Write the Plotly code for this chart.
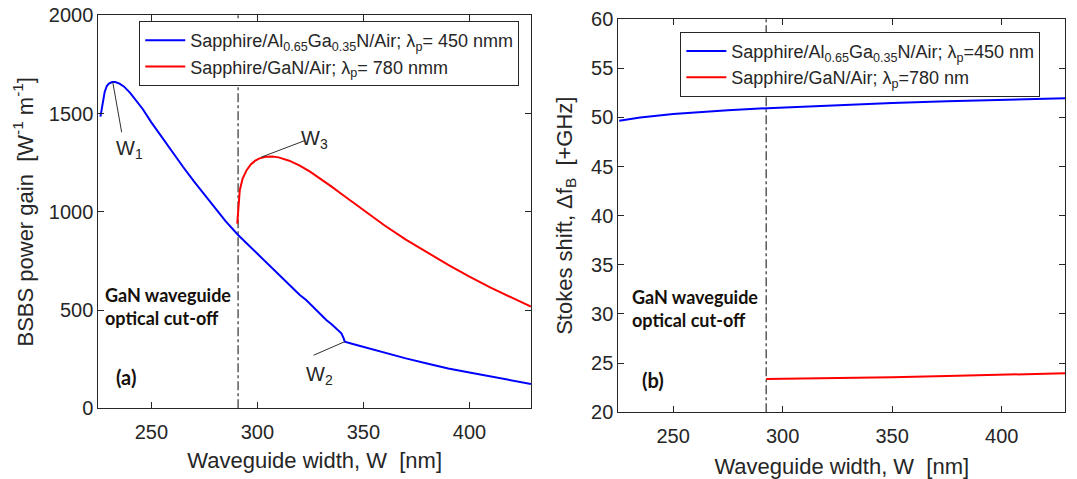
import plotly.graph_objects as go

# ---------------- data ----------------
# (a) BSBS power gain
a_blue_x = [226, 227, 228, 229, 230, 231.5, 233, 235, 237, 240, 243, 246, 250, 255, 260, 265,
            270, 275, 280, 285, 290.8, 295, 300, 305, 310, 315, 320, 323, 327, 332.5, 335,
            337.2, 339.6, 340.6, 341.2, 345, 350, 357.8, 370, 380, 390, 400, 410, 420, 429]
a_blue_y = [1484, 1560, 1610, 1640, 1652, 1660, 1660, 1652, 1638, 1605, 1566, 1522, 1455, 1378,
            1302, 1228, 1156, 1087, 1018, 952, 883, 839, 786, 734, 681, 629, 577, 551, 508, 449,
            428, 407, 382, 358, 339, 327, 312, 288, 254, 228, 203, 182, 161, 142, 124]
a_red_x = [290.5, 291, 291.7, 293, 295, 297, 299, 301, 304, 307, 310, 315, 320, 325, 330, 335,
           340, 345, 350, 360, 370, 380, 390, 400, 410, 420, 429]
a_red_y = [940, 1030, 1110, 1168, 1213, 1242, 1260, 1272, 1280, 1281, 1277, 1260, 1235, 1203,
           1167, 1128, 1088, 1048, 1008, 930, 858, 792, 730, 670, 614, 563, 518]

# (b) Stokes shift
b_blue_x = [225.4, 235, 250, 265, 275, 293, 310, 325, 350, 375, 400, 429]
b_blue_y = [49.65, 49.98, 50.35, 50.6, 50.72, 50.93, 51.1, 51.25, 51.45, 51.63, 51.8, 51.95]
b_red_x = [292.5, 300, 325, 350, 375, 400, 429]
b_red_y = [23.38, 23.4, 23.47, 23.57, 23.7, 23.82, 23.97]

a_names = ["Sapphire/Al<sub>0.65</sub>Ga<sub>0.35</sub>N/Air; λ<sub>p</sub>= 450 nmm",
           "Sapphire/GaN/Air; λ<sub>p</sub>= 780 nmm"]
b_names = ["Sapphire/Al<sub>0.65</sub>Ga<sub>0.35</sub>N/Air; λ<sub>p</sub>=450 nm",
           "Sapphire/GaN/Air; λ<sub>p</sub>=780 nm"]

cutoff_a = 290.9
cutoff_b = 292.5

x_range = [225, 429]
x_ticks = [250, 300, 350, 400]
a_range = [0, 2000]
a_ticks = [0, 500, 1000, 1500, 2000]
b_range = [20, 60]
b_ticks = [20, 25, 30, 35, 40, 45, 50, 55, 60]

# leader lines (from point on curve to label) and labels
w_leaders = [  # (x0, y0, x1, y1)
    (231.8, 1660, 236.0, 1405),
    (341.2, 339, 326.5, 270),
    (301.8, 1278, 322.3, 1362),
]
w_labels = [  # (text, x, y)
    ("W<sub>1</sub>", 232.6, 1392),
    ("W<sub>2</sub>", 322.0, 240),
    ("W<sub>3</sub>", 319.6, 1440),
]

# ---------------- figure ----------------
FONT = "Liberation Sans, Arial, sans-serif"
TXT = "#262626"
BLUE = "#0000ff"
RED = "#ff0000"

fig = go.Figure()
fig.add_trace(go.Scatter(x=a_blue_x, y=a_blue_y, mode="lines", name=a_names[0],
                         line=dict(color=BLUE, width=2), xaxis="x", yaxis="y", legend="legend"))
fig.add_trace(go.Scatter(x=a_red_x, y=a_red_y, mode="lines", name=a_names[1],
                         line=dict(color=RED, width=2), xaxis="x", yaxis="y", legend="legend"))
fig.add_trace(go.Scatter(x=b_blue_x, y=b_blue_y, mode="lines", name=b_names[0],
                         line=dict(color=BLUE, width=2), xaxis="x2", yaxis="y2", legend="legend2"))
fig.add_trace(go.Scatter(x=b_red_x, y=b_red_y, mode="lines", name=b_names[1],
                         line=dict(color=RED, width=2), xaxis="x2", yaxis="y2", legend="legend2"))

axis_common = dict(showline=True, linecolor=TXT, linewidth=1, mirror="ticks", ticks="inside",
                   ticklen=6, tickcolor=TXT, showgrid=False, zeroline=False,
                   tickfont=dict(family=FONT, size=20, color=TXT), automargin=False)
TITLE_FONT = dict(family=FONT, size=22, color=TXT)

fig.update_layout(
    width=1077, height=479,
    margin=dict(l=0, r=0, t=0, b=0),
    paper_bgcolor="white", plot_bgcolor="white",
    font=dict(family=FONT, color=TXT),
    xaxis=dict(domain=[0.0913, 0.4930], range=x_range, tickvals=x_ticks, anchor="y",
               ticklabelstandoff=6,
               title=dict(text="Waveguide width, W  [nm]", font=TITLE_FONT, standoff=10),
               **axis_common),
    yaxis=dict(domain=[0.1476, 0.9681], range=a_range, tickvals=a_ticks, anchor="x",
               title=dict(text="BSBS power gain  [W<sup>-1</sup> m<sup>-1</sup>]",
                          font=TITLE_FONT, standoff=9),
               **axis_common),
    xaxis2=dict(domain=[0.5741, 0.9891], range=x_range, tickvals=x_ticks, anchor="y2",
                ticklabelstandoff=6,
                title=dict(text="Waveguide width, W  [nm]", font=TITLE_FONT, standoff=12),
                **axis_common),
    yaxis2=dict(domain=[0.1392, 0.9603], range=b_range, tickvals=b_ticks, anchor="x2",
                title=dict(text="Stokes shift, Δf<sub>B</sub>  [+GHz]",
                           font=TITLE_FONT, standoff=12),
                **axis_common),
    legend=dict(x=0.1293, y=0.9562, xanchor="left", yanchor="top", bgcolor="white",
                bordercolor=TXT, borderwidth=1, font=dict(family=FONT, size=18, color=TXT),
                itemwidth=40, tracegroupgap=0),
    legend2=dict(x=0.6317, y=0.9338, xanchor="left", yanchor="top", bgcolor="white",
                 bordercolor=TXT, borderwidth=1, font=dict(family=FONT, size=18, color=TXT),
                 itemwidth=40, tracegroupgap=0),
)

# cut-off lines
fig.add_shape(type="line", xref="x", yref="y domain", x0=cutoff_a, x1=cutoff_a, y0=0, y1=1,
              line=dict(color="#404040", width=1.3, dash="dashdot"), layer="below")
fig.add_shape(type="line", xref="x2", yref="y2 domain", x0=cutoff_b, x1=cutoff_b, y0=0, y1=1,
              line=dict(color="#404040", width=1.3, dash="dashdot"), layer="below")

# leader lines
for (x0, y0, x1, y1) in w_leaders:
    fig.add_shape(type="line", xref="x", yref="y", x0=x0, y0=y0, x1=x1, y1=y1,
                  line=dict(color="#303030", width=1))
for (t, x, y) in w_labels:
    fig.add_annotation(text=t, x=x, y=y, xref="x", yref="y", xanchor="left", yanchor="top",
                       showarrow=False, font=dict(family=FONT, size=20, color=TXT))

NOTE = "GaN waveguide<br>optical cut-off"
NOTE_FONT = dict(family="Lato, Open Sans, sans-serif", size=18, color="#15100a", weight="bold")
fig.add_annotation(text=NOTE, x=227.2, y=518, xref="x", yref="y", xanchor="left", yanchor="middle",
                   align="left", showarrow=False, font=NOTE_FONT)
fig.add_annotation(text=NOTE, x=230.5, y=30.6, xref="x2", yref="y2", xanchor="left", yanchor="middle",
                   align="left", showarrow=False, font=NOTE_FONT)
PANEL_FONT = dict(family="Lato, Open Sans, sans-serif", size=20, color="#15100a", weight="bold")
fig.add_annotation(text="(a)", x=238, y=161, xref="x", yref="y", xanchor="center", yanchor="middle",
                   showarrow=False, font=PANEL_FONT)
fig.add_annotation(text="(b)", x=241, y=23.3, xref="x2", yref="y2", xanchor="center", yanchor="middle",
                   showarrow=False, font=PANEL_FONT)

fig.write_html("out.html")
